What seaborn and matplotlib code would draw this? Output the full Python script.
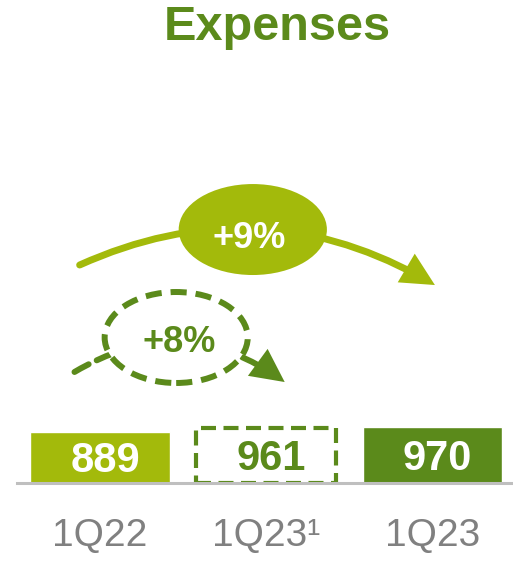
import matplotlib
matplotlib.use("Agg")
import numpy as np
import matplotlib.pyplot as plt
import seaborn as sns
from matplotlib.patches import Ellipse, FancyArrowPatch

# data
categories = ["1Q22", "1Q23\u00b9", "1Q23"]
values = [889, 961, 970]
changes = ["+9%", "+8%"]

LIGHT = "#A3BA0B"
DARK = "#5B8A1B"
GREY = "#808080"

sns.set_theme(style="white")
plt.rcParams["font.family"] = ["Liberation Sans", "DejaVu Sans"]

fig = plt.figure(figsize=(5.13, 5.62), dpi=100)
ax = fig.add_axes([17 / 513, 79 / 562, 496 / 513, 483 / 562])

sns.barplot(x=categories, y=values, hue=categories, palette=[LIGHT, "white", DARK],
            legend=False, width=0.84, saturation=1, ax=ax)

# adjusted bar drawn as dashed outline
adj = ax.patches[1]
adj.set_facecolor("white")
adj.set_edgecolor(DARK)
adj.set_linewidth(3)
adj.set_linestyle((0, (3.6, 1.8)))

ax.set_xlim(-0.5, 2.485)
ax.set_ylim(0, 8415)
ax.set_yticks([])
for s in ["top", "left", "right"]:
    ax.spines[s].set_visible(False)
ax.spines["bottom"].set_color("#BFBFBF")
ax.spines["bottom"].set_linewidth(2.2)
ax.tick_params(axis="x", length=0, pad=25, labelsize=28, labelcolor=GREY)
ax.set_xlabel("")

label_colors = ["white", DARK, "white"]
for i, v in enumerate(values):
    ax.text(i + 0.03, v / 2 - 60, str(v), ha="center", va="center",
            fontsize=30, fontweight="bold", color=label_colors[i])


def curved_arrow(start, end, rad, color, lw, ls):
    # shaft in the given line style
    ax.add_patch(FancyArrowPatch(start, end, connectionstyle=f"arc3,rad={rad}",
                                 arrowstyle="-", color=color, lw=lw, linestyle=ls,
                                 shrinkA=0, shrinkB=13, zorder=3))
    # solid head following the end tangent of the arc
    p1 = ax.transData.transform(start)
    p2 = ax.transData.transform(end)
    d = p2 - p1
    ctrl = (p1 + p2) / 2 + rad * np.array([d[1], -d[0]])
    t = (p2 - ctrl) / np.hypot(*(p2 - ctrl))
    base = ax.transData.inverted().transform(p2 - t * 6)
    ax.add_patch(FancyArrowPatch(base, end, arrowstyle="-|>,head_length=1.0,head_width=0.5",
                                 mutation_scale=24, color=color, lw=0,
                                 shrinkA=0, shrinkB=0, zorder=3))


curved_arrow((-0.123, 3798), (2.015, 3449), -0.26, LIGHT, 5, "-")
ax.add_patch(Ellipse((0.919, 4416), 0.892, 1585, facecolor=LIGHT,
                     edgecolor="none", zorder=4))
ax.text(0.90, 4260, changes[0], ha="center", va="center", fontsize=26,
        fontweight="bold", color="white", zorder=5)

curved_arrow((-0.154, 1934), (1.111, 1759), -0.33, DARK, 4.3, (0, (2.7, 1.5)))
ax.add_patch(Ellipse((0.458, 2535), 0.861, 1585, facecolor="white",
                     edgecolor=DARK, lw=4.3, linestyle=(0, (2.7, 1.5)), zorder=4))
ax.text(0.479, 2456, changes[1], ha="center", va="center", fontsize=26,
        fontweight="bold", color=DARK, zorder=5)

fig.text(277 / 513, 1 - 27 / 562, "Expenses", ha="center", va="center",
         fontsize=35, fontweight="bold", color=DARK)

fig.savefig("out.png", dpi=100)
